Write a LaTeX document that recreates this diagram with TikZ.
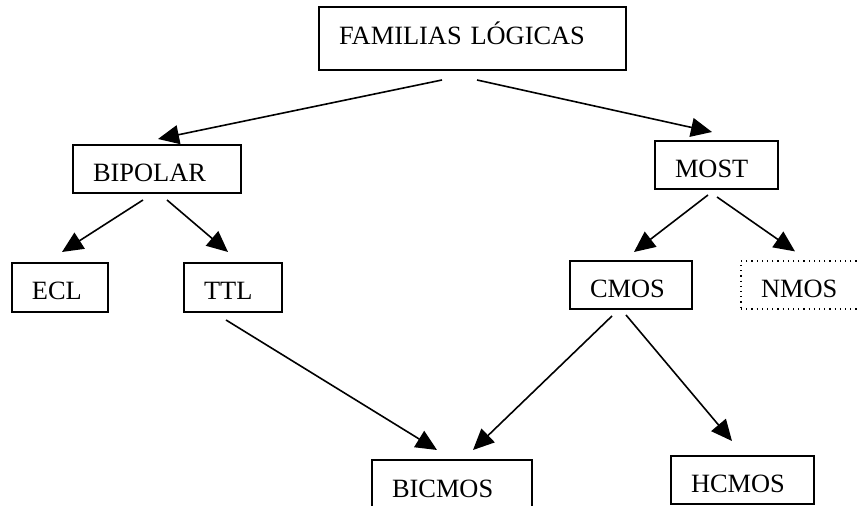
\documentclass[tikz,border=0pt]{standalone}
\usepackage{fontspec}
\setmainfont{Liberation Serif}
\usepackage{tikz}
\usetikzlibrary{arrows.meta,shapes}

\tikzset{
   famnode/.style={draw,line width=1pt,align=left,inner xsep=10pt,inner ysep=0pt,
      font=\fontsize{13.2pt}{15pt}\selectfont,text height=12.5pt,text depth=0pt},
   famarrow/.style={line width=0.8pt,-{Triangle[length=10.5pt,width=9.5pt]}}
}

\begin{document}
\begin{tikzpicture}[x=0.5pt,y=-0.5pt]
   \clip (0,0) rectangle (857,506);
   \node[famnode,text width=133.5pt,minimum height=31.5pt,text height=6.5pt] (fam) at (472.5,38.5) {FAMILIAS LÓGICAS};
   \node[famnode,text width=64pt,minimum height=24pt] (bip) at (157,169) {BIPOLAR};
   \node[famnode,text width=41.5pt,minimum height=24pt] (most) at (716.5,165) {MOST};
   \node[famnode,text width=28pt,minimum height=24.5pt] (ecl) at (60,287.5) {ECL};
   \node[famnode,text width=29pt,minimum height=24.5pt] (ttl) at (233,287.5) {TTL};
   \node[famnode,text width=41pt,minimum height=24pt] (cmos) at (631,285) {CMOS};
   \node[famnode,text width=45pt,minimum height=24pt,line width=0.6pt,dotted] (nmos) at (806,285) {NMOS};
   \node[famnode,text width=60pt,minimum height=25pt] (bicmos) at (452,485) {BICMOS};
   \node[famnode,text width=51.5pt,minimum height=24pt] (hcmos) at (742.5,480) {HCMOS};

   \draw[famarrow] ([shift={(-30.5,9)}]fam.south) -- ([shift={(1,-5)}]bip.north);
   \draw[famarrow] ([shift={(4.5,9)}]fam.south) -- ([shift={(-4.5,-8)}]most.north);
   \draw[famarrow] ([shift={(-14,6)}]bip.south) -- ([shift={(2,-10)}]ecl.north);
   \draw[famarrow] ([shift={(10,6)}]bip.south) -- ([shift={(-5,-10)}]ttl.north);
   \draw[famarrow] ([shift={(-8.5,5)}]most.south) -- ([shift={(3,-8)}]cmos.north);
   \draw[famarrow] ([shift={(0.5,7)}]most.south) -- ([shift={(-11,-9)}]nmos.north);
   \draw[famarrow] ([shift={(-7,7)}]ttl.south) -- ([shift={(-15,-9)}]bicmos.north);
   \draw[famarrow] ([shift={(-19,6)}]cmos.south) -- ([shift={(21,-9)}]bicmos.north);
   \draw[famarrow] ([shift={(-5,5)}]cmos.south) -- ([shift={(-10.5,-14)}]hcmos.north);
\end{tikzpicture}
\end{document}
